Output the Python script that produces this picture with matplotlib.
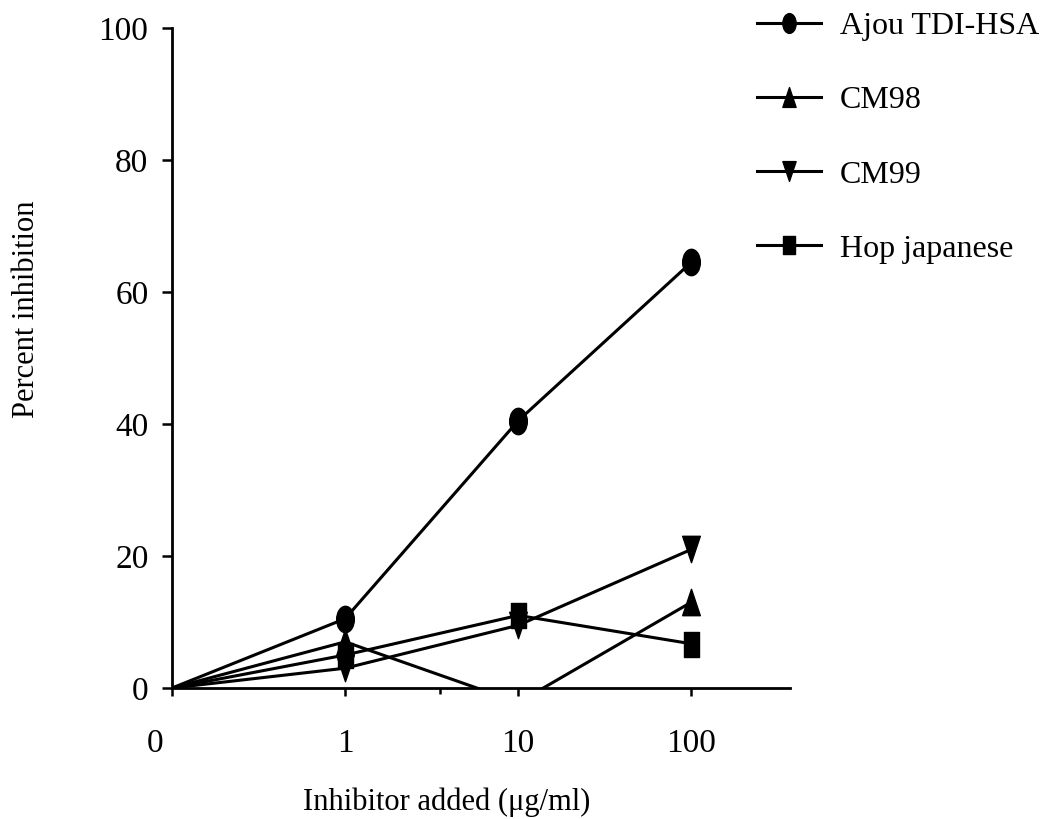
import matplotlib.pyplot as plt
import matplotlib.transforms as mtransforms
from matplotlib.path import Path
from matplotlib.markers import MarkerStyle

# Data (x shown as categories 0, 1, 10, 100)
dose_labels = ['0', '1', '10', '100']
ajou = [0, 10.5, 40.5, 64.5]
cm98 = [0, 7, -2.2, 13]
cm99 = [0, 3, 9.5, 21]
hop = [0, 5, 11, 6.7]

plt.rcParams['font.family'] = ['Liberation Serif', 'DejaVu Serif']

# markers in the scan are stretched vertically
oval = Path.unit_circle().transformed(mtransforms.Affine2D().scale(0.67, 1.0))
tri_up = Path([(0, 1), (-0.67, -1), (0.67, -1), (0, 1)], closed=True)
tri_dn = Path([(0, -1), (-0.67, 1), (0.67, 1), (0, -1)], closed=True)
rect = Path([(-0.6, -1), (0.6, -1), (0.6, 1), (-0.6, 1), (-0.6, -1)], closed=True)

fig = plt.figure(figsize=(10.47, 8.19), dpi=100)
ax = fig.add_axes([172 / 1047, 1 - 688 / 819, 618 / 1047, 660 / 819])

xs = range(len(dose_labels))
style = dict(color='black', lw=2.2, markersize=19, markevery=[1, 2, 3])
ax.plot(xs, ajou, marker=MarkerStyle(oval), label='Ajou TDI-HSA', **style)
ax.plot(xs, cm98, marker=MarkerStyle(tri_up), label='CM98', **style)
ax.plot(xs, cm99, marker=MarkerStyle(tri_dn), label='CM99', **style)
ax.plot(xs, hop, marker=MarkerStyle(rect), label='Hop japanese', **dict(style, markersize=18))

ax.set_xlim(0, 3.57)
ax.set_ylim(0, 100)
ax.spines['top'].set_visible(False)
ax.spines['right'].set_visible(False)
ax.spines['left'].set_linewidth(2.0)
ax.spines['bottom'].set_linewidth(2.0)

ax.set_yticks([0, 20, 40, 60, 80, 100])
ax.tick_params(axis='y', length=7, width=1.8, pad=10, labelsize=24)
ax.set_xticks(list(xs))
ax.set_xticklabels(dose_labels)
ax.set_xticks([1.55], minor=True)
ax.tick_params(axis='x', which='major', length=6, width=1.8, pad=23, labelsize=24)
ax.tick_params(axis='x', which='minor', length=4, width=1.8)
# the "0" label sits a little left of the origin
lbl0 = ax.get_xticklabels()[0]
lbl0.set_transform(lbl0.get_transform() + mtransforms.ScaledTranslation(-17 / 100, 0, fig.dpi_scale_trans))

ax.set_xlabel('Inhibitor added (μg/ml)', fontsize=22, va='center')
ax.xaxis.set_label_coords(0.445, -0.173)
ax.set_ylabel('Percent inhibition', fontsize=22, va='center')
ax.yaxis.set_label_coords(-0.235, 0.574)

fig.legend(loc='upper left', bbox_to_anchor=(757 / 1047, 1 - 12 / 819), frameon=False,
           fontsize=23, handlelength=2.0, labelspacing=1.4, handletextpad=0.6,
           borderpad=0, borderaxespad=0, markerscale=0.75)

fig.savefig('out.png', dpi=100)
